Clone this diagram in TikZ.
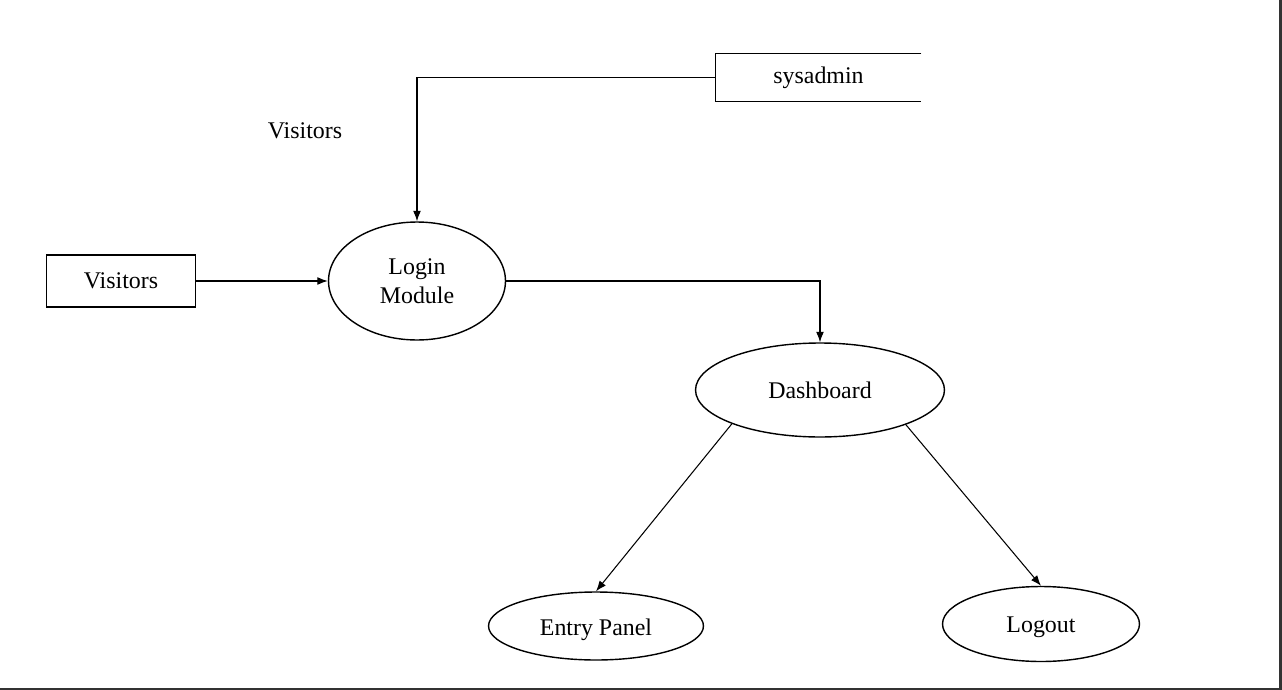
\documentclass[tikz,border=0pt]{standalone}
\usepackage{fontspec}
\setmainfont{Liberation Serif}
\usepackage{tikz}
\usetikzlibrary{calc}
\usetikzlibrary{arrows.meta}
\usetikzlibrary{shapes.geometric}

\begin{document}
\begin{tikzpicture}[x=0.02cm, y=-0.02cm,
	font=\fontsize{13.6}{16.5}\selectfont,
	process/.style={draw, ellipse, line width=0.8pt, inner sep=0pt},
	flow/.style={-{Latex[length=6pt, width=4.5pt]}, line width=0.6pt}]

	% page frame
	\useasboundingbox (0,0) rectangle (1282,690);
	\def \frameColour {black!80};
	\fill [\frameColour] (1279,0) rectangle (1282,690);
	\fill [\frameColour] (0,687.5) rectangle (1282,690);

	% external entity
	\node [draw, line width=1pt, minimum width=2.98cm, minimum height=1.04cm] (visitors) at (121,281) {Visitors};

	% data store, open on the right
	\node [minimum width=4.1cm, minimum height=0.94cm] (sysadmin) at (818.5,77.5) {sysadmin};
	\draw [line width=0.6pt] (sysadmin.north east) -- (sysadmin.north west) -- (sysadmin.south west) -- (sysadmin.south east);

	% loose label
	\node (visitorsLabel) at (305,131) {Visitors};

	% processes
	\node [process, minimum width=3.54cm, minimum height=2.36cm, align=center] (login) at (417,281) {Login\\Module};
	\node [process, minimum width=4.98cm, minimum height=1.88cm] (dashboard) at (820,390) {Dashboard};
	\node [process, minimum width=4.3cm, minimum height=1.36cm] (entry) at (596,626) {};
	\node [process, minimum width=3.94cm, minimum height=1.5cm] (logout) at (1041,624) {};

	% texts sit a little low in the lower ellipses
	\node (entryText) at ($(entry.center)+(0,4)$) {Entry Panel};
	\node (logoutText) at ($(logout.center)+(0,3)$) {Logout};

	% flows
	\draw [flow] (visitors.east) -- (login.west);
	\draw [flow] (sysadmin.west) -| (login.north);
	\draw [flow] (login.east) -| (dashboard.north);
	\draw [flow] (dashboard.201) -- (entry.north);
	\draw [flow] (dashboard.338) -- (logout.north);

\end{tikzpicture}
\end{document}
